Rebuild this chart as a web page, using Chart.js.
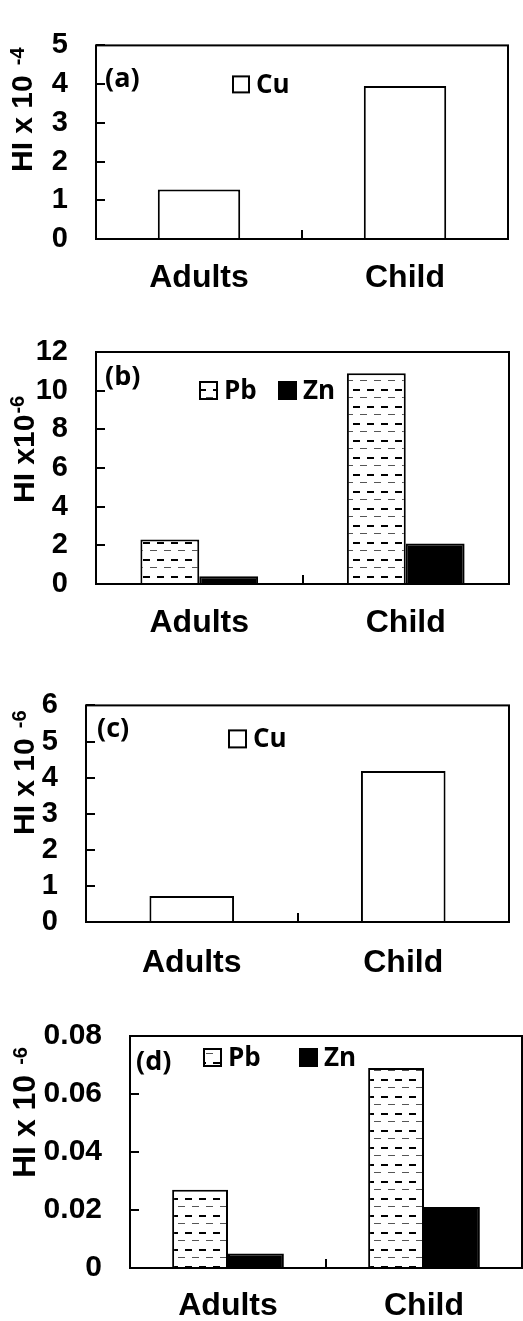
<!DOCTYPE html>
<html>
<head>
<meta charset="utf-8">
<script src="https://cdn.jsdelivr.net/npm/chart.js@4/dist/chart.umd.min.js"></script>
<style>
body{margin:0;background:#fff;width:523px;height:1321px;position:relative;overflow:hidden;}
.panel{position:absolute;left:0;width:523px;}
canvas{display:block;}
</style>
</head>
<body>
<div class="panel" style="top:0px"><canvas id="chartA" width="523" height="300"></canvas></div>
<div class="panel" style="top:300px"><canvas id="chartB" width="523" height="360"></canvas></div>
<div class="panel" style="top:660px"><canvas id="chartC" width="523" height="330"></canvas></div>
<div class="panel" style="top:990px"><canvas id="chartD" width="523" height="331"></canvas></div>
<script>
/* ===== data ===== */
var categories = ["Adults", "Child"];

// (a) Cu, HI x 10^-4
var cuA = [1.28, 3.95];
// (b) Pb / Zn, HI x 10^-6
var pbB = [2.3, 10.9];
var znB = [0.4, 2.1];
// (c) Cu, HI x 10^-6
var cuC = [0.72, 4.18];
// (d) Pb / Zn, HI x 10^-6
var pbD = [0.027, 0.069];
var znD = [0.005, 0.021];

// y axis ranges [max, step]
var yRangeA = [5, 1];
var yRangeB = [12, 2];
var yRangeC = [6, 1];
var yRangeD = [0.08, 0.02];

/* ===== dashed fill for Pb ===== */
function makeDashPattern(){
var c = document.createElement("canvas");
c.width = 14; c.height = 17;
var g = c.getContext("2d");
g.fillStyle = "#fff";
g.fillRect(0,0,14,17);
g.fillStyle = "#000";
g.fillRect(3,4,7,2);
g.fillStyle = "#555";
g.fillRect(10,12,4,1);
g.fillRect(0,12,3,1);
return g.createPattern(c, "repeat");
}
var dashFill = makeDashPattern();

var styles = {
Cu:{bg:"#ffffff"},
Pb:{bg:dashFill},
Zn:{bg:"#000000"}
};

/* ===== frame, inward ticks, tag, legend, y title ===== */
var framePlugin = {
id:"frame",
afterDatasetsDraw:function(chart){
var ctx = chart.ctx;
var a = chart.chartArea;
var y = chart.scales.y;
var x = chart.scales.x;
var lay = chart.options.plugins.frame;
ctx.save();
ctx.strokeStyle = "#000";
ctx.lineWidth = 2;
ctx.strokeRect(a.left, a.top, a.right - a.left, a.bottom - a.top);

// inward ticks on the y axis
ctx.beginPath();
y.ticks.forEach(function(t){
var py = Math.round(y.getPixelForValue(t.value));
ctx.moveTo(a.left, py);
ctx.lineTo(a.left + 9, py);
});
// separator between categories
var mid = (x.getPixelForValue(0) + x.getPixelForValue(1)) / 2;
ctx.moveTo(Math.round(mid), a.bottom);
ctx.lineTo(Math.round(mid), a.bottom - 9);
ctx.stroke();

// panel tag
ctx.fillStyle = "#000";
ctx.font = "bold 27px 'Open Sans'";
ctx.textBaseline = "middle";
ctx.textAlign = "left";
ctx.fillText(lay.tag, a.left + lay.tagX, a.top + lay.tagY);

// legend
ctx.font = "bold 26px 'Open Sans'";
chart.data.datasets.forEach(function(ds, i){
var bx = a.left + lay.legendX[i];
var by = a.top + lay.legendY;
var s = lay.box;
ctx.fillStyle = ds.backgroundColor;
ctx.fillRect(bx, by, s, s);
ctx.lineWidth = 2;
ctx.strokeStyle = "#000";
ctx.strokeRect(bx, by, s, s);
ctx.fillStyle = "#000";
ctx.fillText(ds.label, bx + s + 7, by + s / 2 + 1);
});

// y title with superscript
ctx.translate(lay.titleX, lay.titleY);
ctx.rotate(-Math.PI / 2);
ctx.textBaseline = "alphabetic";
ctx.font = "bold " + lay.titleSize + "px 'Liberation Sans'";
ctx.fillText(lay.title, 0, 0);
var w = ctx.measureText(lay.title).width;
ctx.font = "bold 20px 'Liberation Sans'";
ctx.fillText(lay.sup, w + lay.supGap, -lay.supRise);
ctx.restore();
}
};

function makeChart(id, sets, range, lay){
var datasets = [];
for(var i=0;i<sets.length;i++){
datasets.push({
label:sets[i].name,
data:sets[i].values,
backgroundColor:styles[sets[i].name].bg,
borderColor:"#000",
borderWidth:2
});
}
return new Chart(document.getElementById(id),{
type:"bar",
data:{labels:categories, datasets:datasets},
plugins:[framePlugin],
options:{
responsive:false,
animation:false,
devicePixelRatio:1,
layout:{padding:{left:0, right:lay.padRight, top:lay.padTop, bottom:0}},
datasets:{bar:{categoryPercentage:lay.catPct, barPercentage:1}},
plugins:{
legend:{display:false},
tooltip:{enabled:false},
frame:lay
},
scales:{
x:{
grid:{display:false, drawTicks:false},
border:{display:false},
ticks:{color:"#000", padding:lay.xPad, font:{family:"'Liberation Sans'", size:32, weight:"bold"}},
afterFit:function(s){ s.height = lay.xHeight; }
},
y:{
min:0,
max:range[0],
grid:{display:false, drawTicks:false},
border:{display:false},
ticks:{stepSize:range[1], autoSkip:false, color:"#000", padding:28, font:{family:"'Liberation Sans'", size:lay.tickSize, weight:"bold"}},
afterFit:function(s){ s.width = lay.yWidth; }
}
}
}
});
}

/* (a) */
makeChart("chartA", [{name:"Cu", values:cuA}], yRangeA, {
padTop:24, padRight:15, yWidth:96, xHeight:61, xPad:20, catPct:0.4, tickSize:29,
tag:"(a)", tagX:9, tagY:34,
legendX:[137], legendY:31, box:16,
title:"HI x 10", sup:"-4", titleX:32, titleY:172, titleSize:30, supGap:10, supRise:8
});

/* (b) */
makeChart("chartB", [{name:"Pb", values:pbB},{name:"Zn", values:znB}], yRangeB, {
padTop:52, padRight:14, yWidth:96, xHeight:76, xPad:20, catPct:0.57, tickSize:29,
tag:"(b)", tagX:9, tagY:25,
legendX:[104, 183], legendY:30, box:17,
title:"HI x10", sup:"-6", titleX:34, titleY:203, titleSize:30, supGap:1, supRise:10
});

/* (c) */
makeChart("chartC", [{name:"Cu", values:cuC}], yRangeC, {
padTop:38, padRight:14, yWidth:86, xHeight:68, xPad:22, catPct:0.4, tickSize:29,
tag:"(c)", tagX:11, tagY:24,
legendX:[143], legendY:25, box:17,
title:"HI x 10", sup:"-6", titleX:34, titleY:175, titleSize:30, supGap:10, supRise:8
});

/* (d) */
makeChart("chartD", [{name:"Pb", values:pbD},{name:"Zn", values:znD}], yRangeD, {
padTop:44, padRight:1, yWidth:130, xHeight:53, xPad:19, catPct:0.57, tickSize:30,
tag:"(d)", tagX:6, tagY:26,
legendX:[74, 170], legendY:13, box:17,
title:"HI x 10", sup:"-6", titleX:35, titleY:188, titleSize:32, supGap:10, supRise:8
});
</script>
</body>
</html>
